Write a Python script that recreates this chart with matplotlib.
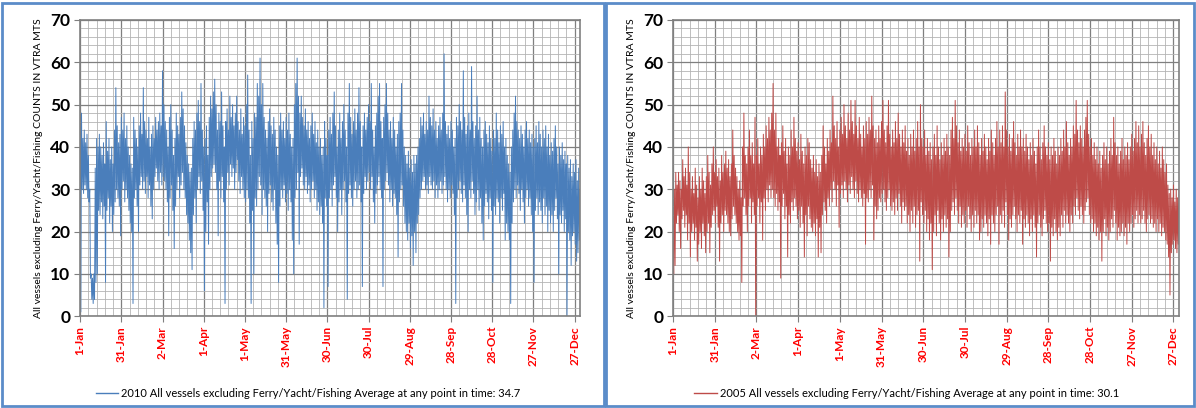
import numpy as np
import matplotlib
matplotlib.use("Agg")
import matplotlib.pyplot as plt
from matplotlib.ticker import MultipleLocator
from matplotlib.patches import Rectangle

plt.rcParams['font.family'] = ['Lato', 'DejaVu Sans']

# Daily high / low of the hourly vessel counts
hi2010 = [
    45, 48, 42, 44, 41, 43, 38, 30, 10, 9, 10, 35, 42, 40, 43, 40, 38, 41, 36, 46, 39, 42, 37, 40, 36, 44, 54, 45, 41, 43,
    47, 44, 48, 42, 45, 40, 38, 36, 35, 47, 44, 42, 40, 45, 48, 43, 54, 46, 44, 42, 47, 40, 43, 45, 42, 47, 44, 46, 48, 45,
    58, 50, 46, 44, 40, 47, 50, 44, 38, 42, 48, 45, 43, 47, 53, 49, 45, 41, 38, 36, 34, 35, 42, 46, 44, 48, 51, 46, 55, 44,
    40, 42, 45, 38, 47, 52, 49, 53, 56, 50, 44, 48, 46, 53, 45, 40, 46, 49, 44, 52, 47, 50, 45, 48, 52, 46, 44, 49, 43, 47,
    45, 50, 57, 44, 38, 46, 42, 48, 47, 55, 52, 61, 50, 55, 47, 44, 42, 46, 49, 45, 43, 47, 44, 40, 38, 45, 48, 44, 46, 42,
    47, 44, 48, 43, 40, 42, 50, 55, 61, 52, 48, 52, 47, 45, 49, 44, 46, 42, 45, 48, 43, 46, 41, 44, 40, 42, 38, 40, 46, 42,
    38, 44, 47, 43, 48, 53, 45, 40, 44, 48, 42, 46, 50, 44, 40, 48, 55, 47, 43, 46, 49, 44, 48, 54, 46, 40, 45, 48, 44, 47,
    50, 46, 55, 44, 40, 45, 48, 52, 55, 46, 42, 47, 50, 55, 48, 44, 46, 42, 47, 44, 40, 43, 46, 48, 55, 44, 40, 38, 36, 39,
    35, 37, 34, 38, 36, 38, 40, 42, 47, 45, 48, 43, 46, 44, 52, 47, 45, 49, 44, 46, 42, 45, 47, 44, 48, 62, 46, 43, 45, 42,
    46, 44, 40, 42, 47, 45, 50, 46, 44, 58, 47, 43, 45, 48, 44, 59, 46, 42, 45, 52, 44, 47, 42, 40, 44, 46, 43, 41, 45, 42,
    39, 44, 42, 48, 44, 41, 45, 43, 46, 40, 42, 38, 36, 34, 40, 44, 48, 52, 46, 44, 42, 45, 43, 40, 44, 46, 42, 44, 41, 43,
    40, 42, 45, 41, 46, 43, 40, 44, 42, 45, 40, 43, 38, 41, 39, 42, 45, 40, 36, 40, 38, 41, 37, 39, 36, 38, 35, 37, 33, 36,
    34, 37, 32, 35, 30,
]
lo2010 = [
    1, 30, 29, 31, 30, 28, 27, 9, 4, 3, 4, 8, 10, 25, 24, 27, 23, 26, 8, 25, 28, 22, 26, 20, 24, 27, 30, 28, 26, 19,
    30, 32, 27, 30, 28, 25, 22, 20, 3, 28, 30, 26, 20, 31, 33, 30, 32, 29, 33, 28, 31, 26, 23, 30, 33, 35, 32, 30, 34, 31,
    33, 32, 30, 27, 19, 28, 31, 25, 16, 26, 30, 33, 28, 31, 34, 30, 28, 24, 22, 18, 15, 11, 24, 28, 22, 30, 33, 29, 32, 25,
    6, 20, 27, 17, 30, 33, 35, 36, 34, 30, 19, 32, 28, 33, 27, 3, 30, 34, 31, 36, 33, 35, 30, 34, 37, 32, 29, 33, 30, 28,
    27, 30, 28, 22, 3, 25, 10, 28, 26, 30, 33, 31, 24, 30, 28, 26, 20, 29, 31, 27, 25, 30, 22, 17, 8, 26, 30, 28, 31, 27,
    29, 25, 30, 27, 18, 10, 28, 30, 34, 17, 33, 35, 31, 30, 33, 29, 31, 27, 30, 32, 28, 30, 25, 27, 24, 26, 22, 2, 28, 26,
    7, 28, 30, 26, 31, 33, 28, 20, 27, 30, 24, 30, 32, 27, 4, 29, 31, 28, 26, 30, 32, 28, 30, 31, 27, 7, 29, 33, 30, 32,
    34, 30, 33, 27, 22, 29, 31, 33, 30, 28, 7, 30, 32, 34, 31, 27, 30, 26, 29, 28, 24, 14, 27, 30, 31, 26, 22, 20, 18, 22,
    16, 19, 12, 20, 15, 22, 24, 28, 30, 32, 33, 30, 31, 29, 33, 31, 30, 32, 28, 31, 28, 30, 32, 29, 31, 33, 30, 27, 30, 28,
    31, 29, 24, 3, 28, 30, 32, 29, 27, 31, 28, 24, 20, 30, 28, 32, 29, 24, 27, 30, 25, 28, 22, 18, 26, 29, 27, 23, 28, 25,
    8, 26, 24, 28, 27, 22, 28, 25, 29, 18, 22, 20, 18, 3, 22, 27, 30, 28, 31, 29, 25, 30, 27, 22, 28, 30, 26, 28, 24, 20,
    8, 25, 28, 24, 27, 25, 22, 28, 24, 26, 20, 25, 22, 24, 20, 25, 28, 23, 10, 24, 22, 25, 20, 23, 0, 20, 18, 12, 19, 20,
    17, 13, 15, 18, 14,
]
hi2005 = [
    17, 30, 34, 31, 34, 32, 30, 37, 33, 35, 31, 40, 34, 30, 33, 29, 35, 31, 28, 33, 30, 35, 32, 29, 33, 38, 34, 31, 36, 40,
    34, 37, 33, 35, 32, 38, 34, 36, 39, 35, 37, 33, 36, 44, 38, 35, 33, 30, 32, 28, 40, 48, 38, 36, 40, 44, 38, 41, 36, 47,
    38, 42, 36, 40, 38, 43, 40, 45, 42, 47, 44, 48, 55, 44, 48, 40, 42, 38, 41, 45, 39, 42, 36, 40, 38, 44, 40, 47, 42, 39,
    41, 37, 43, 39, 36, 40, 38, 42, 41, 37, 35, 38, 34, 37, 33, 36, 34, 38, 45, 40, 36, 42, 39, 44, 41, 52, 45, 42, 46, 40,
    44, 47, 43, 50, 45, 42, 48, 44, 51, 46, 43, 51, 45, 42, 47, 43, 40, 45, 42, 46, 43, 47, 44, 52, 45, 42, 44, 41, 45, 42,
    46, 51, 44, 41, 45, 51, 43, 40, 44, 41, 46, 42, 48, 43, 40, 44, 41, 45, 39, 42, 38, 43, 40, 44, 39, 42, 46, 40, 50, 42,
    40, 44, 38, 42, 39, 41, 37, 40, 43, 38, 45, 40, 37, 41, 38, 42, 39, 43, 40, 38, 44, 47, 42, 51, 45, 41, 44, 39, 42, 40,
    43, 39, 45, 41, 38, 42, 40, 44, 40, 45, 41, 38, 42, 39, 43, 40, 37, 42, 39, 44, 41, 38, 42, 46, 40, 44, 41, 45, 40, 53,
    44, 40, 43, 39, 42, 46, 41, 38, 43, 40, 44, 40, 42, 39, 43, 40, 37, 41, 38, 42, 39, 36, 40, 44, 40, 37, 41, 45, 40, 38,
    41, 37, 40, 38, 42, 39, 36, 40, 38, 42, 39, 44, 40, 46, 41, 38, 42, 40, 45, 43, 51, 44, 41, 45, 42, 40, 44, 47, 51, 43,
    40, 42, 38, 41, 37, 40, 36, 39, 35, 38, 41, 37, 40, 36, 39, 42, 38, 47, 41, 38, 40, 36, 39, 42, 37, 40, 38, 41, 37, 40,
    43, 39, 42, 46, 41, 45, 40, 43, 46, 41, 38, 42, 45, 40, 43, 38, 41, 37, 40, 36, 39, 35, 40, 37, 34, 36, 31, 29, 30, 28,
    31, 27, 30, 28, 30,
]
lo2005 = [
    10, 12, 22, 24, 20, 16, 23, 25, 21, 24, 18, 22, 14, 20, 22, 18, 21, 13, 17, 20, 16, 22, 19, 15, 20, 22, 15, 21, 24, 25,
    22, 26, 21, 13, 22, 24, 20, 25, 24, 22, 20, 19, 23, 26, 24, 22, 20, 18, 19, 8, 26, 28, 24, 20, 26, 28, 22, 27, 24, 0,
    26, 28, 22, 27, 18, 28, 25, 30, 27, 31, 28, 30, 28, 26, 29, 25, 27, 9, 26, 29, 23, 26, 14, 24, 22, 27, 25, 28, 26, 23,
    25, 21, 26, 22, 14, 24, 19, 26, 23, 21, 20, 22, 19, 23, 14, 21, 15, 24, 27, 25, 22, 28, 26, 30, 27, 32, 30, 26, 31, 21,
    29, 31, 28, 32, 30, 27, 31, 29, 33, 30, 28, 32, 29, 27, 30, 28, 26, 29, 17, 28, 27, 30, 28, 31, 18, 26, 23, 25, 28, 27,
    29, 30, 27, 25, 28, 30, 26, 25, 27, 24, 28, 25, 29, 26, 22, 27, 25, 26, 22, 24, 20, 25, 22, 26, 21, 24, 25, 13, 27, 24,
    22, 25, 20, 23, 18, 22, 11, 20, 24, 19, 25, 22, 18, 23, 20, 24, 21, 23, 14, 20, 25, 27, 24, 28, 25, 22, 26, 21, 24, 22,
    25, 21, 26, 23, 20, 24, 21, 25, 22, 24, 18, 20, 23, 21, 24, 22, 19, 23, 17, 24, 22, 20, 24, 26, 17, 24, 22, 25, 21, 27,
    24, 18, 23, 21, 24, 26, 23, 20, 24, 22, 25, 17, 23, 21, 24, 22, 19, 23, 20, 24, 21, 14, 22, 24, 21, 19, 23, 25, 22, 20,
    22, 13, 21, 19, 23, 20, 18, 21, 19, 24, 21, 25, 22, 24, 22, 20, 24, 22, 26, 24, 28, 25, 23, 26, 24, 22, 25, 27, 28, 24,
    22, 23, 20, 22, 19, 21, 18, 20, 13, 20, 23, 19, 21, 18, 20, 23, 21, 25, 22, 18, 21, 19, 20, 22, 19, 21, 17, 22, 20, 22,
    24, 21, 23, 25, 22, 24, 22, 23, 25, 22, 20, 23, 24, 22, 23, 21, 22, 20, 23, 20, 22, 19, 21, 20, 18, 17, 14, 5, 15, 17,
    18, 16, 15, 17, 19,
]

tick_labels = ['1-Jan', '31-Jan', '2-Mar', '1-Apr', '1-May', '31-May', '30-Jun',
               '30-Jul', '29-Aug', '28-Sep', '28-Oct', '27-Nov', '27-Dec']
legend2010 = '2010 All vessels excluding Ferry/Yacht/Fishing Average at any point in time: 34.7'
legend2005 = '2005 All vessels excluding Ferry/Yacht/Fishing Average at any point in time: 30.1'
ylabel = 'All vessels excluding Ferry/Yacht/Fishing COUNTS IN VTRA MTS'


def day_series(hi, lo):
    # each day: high then low, half a day apart
    t = np.repeat(np.arange(len(hi)), 2) + np.tile([0.0, 0.5], len(hi))
    v = np.empty(2 * len(hi))
    v[0::2] = hi
    v[1::2] = lo
    return t, v


fig = plt.figure(figsize=(11.96, 4.08), dpi=100)

# panel frames
fig.patches.append(Rectangle((0.002, 0.004), 0.503, 0.988, transform=fig.transFigure,
                             fill=False, edgecolor='#5b8cc9', lw=2))
fig.patches.append(Rectangle((0.507, 0.004), 0.491, 0.988, transform=fig.transFigure,
                             fill=False, edgecolor='#5b8cc9', lw=2))

panels = [
    ([0.067, 0.225, 0.418, 0.726], hi2010, lo2010, '#4a7ebb', legend2010, 0.456),
    ([0.5627, 0.225, 0.4231, 0.726], hi2005, lo2005, '#be4b48', legend2005, 0.462),
]

for rect, hi, lo, color, label, legx in panels:
    ax = fig.add_axes(rect)
    t, v = day_series(hi, lo)
    ax.plot(t, v, color=color, lw=0.7, label=label)
    ax.set_xlim(0, 364)
    ax.set_ylim(0, 70)
    ax.xaxis.set_major_locator(MultipleLocator(30))
    ax.xaxis.set_minor_locator(MultipleLocator(6))
    ax.yaxis.set_major_locator(MultipleLocator(10))
    ax.yaxis.set_minor_locator(MultipleLocator(2))
    ax.grid(which='major', color='#7f7f7f', lw=0.9)
    ax.grid(which='minor', color='#b4b4b4', lw=0.6)
    ax.set_axisbelow(True)
    ax.set_xticks(np.arange(0, 361, 30))
    ax.set_xticklabels(tick_labels, rotation=90, color='#ff0000',
                       fontsize=8.5, fontweight='bold')
    for lab in ax.get_yticklabels():
        lab.set_fontsize(12.5)
        lab.set_fontweight('bold')
    ax.tick_params(which='major', length=4, color='#7f7f7f', pad=3)
    ax.tick_params(which='minor', length=0)
    for sp in ax.spines.values():
        sp.set_color('#808080')
        sp.set_linewidth(1.2)
    ax.set_ylabel(ylabel, fontsize=7.5, labelpad=5)
    leg = ax.legend(loc='center', bbox_to_anchor=(legx, -0.26), frameon=False,
                    fontsize=8, handlelength=2.0, handletextpad=0.3)
    leg.get_lines()[0].set_linewidth(1.0)

fig.savefig('out.png', dpi=100)
